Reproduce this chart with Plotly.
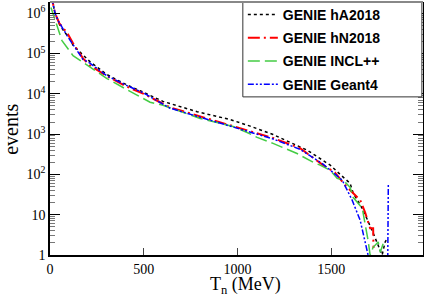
import plotly.graph_objects as go

# ---- data ----
t_hA = [5, 27, 43, 53, 80, 107, 123, 213, 304, 411, 480, 603, 785, 961, 1068, 1190, 1372, 1441, 1495, 1548, 1601, 1617, 1671, 1724, 1751, 1772, 1788, 1799]
n_hA = [3.0e6, 1.0e6, 6.6e5, 5.0e5, 3.3e5, 2.35e5, 1.6e5, 6.3e4, 3.0e4, 1.66e4, 1.2e4, 6500, 3600, 2300, 1580, 980, 400, 250, 170, 100, 60, 35, 13, 3.5, 1.7, 1.0, 2.1, 2.6]

t_hN = [5, 27, 50, 91, 123, 176, 213, 304, 411, 500, 641, 817, 998, 1190, 1334, 1457, 1520, 1575, 1655, 1681, 1708, 1724, 1726]
n_hN = [3.0e6, 1.0e6, 5.6e5, 3.3e5, 1.8e5, 7.6e4, 5.1e4, 2.75e4, 1.5e4, 1.0e4, 4600, 2600, 1480, 800, 450, 170, 112, 54, 23, 11.5, 4.6, 4.6, 1.5]

t_incl = [5, 32, 64, 123, 213, 304, 420, 534, 603, 710, 801, 907, 977, 1052, 1105, 1190, 1318, 1404, 1441, 1495, 1532, 1564, 1601, 1617, 1666, 1697, 1708, 1724, 1751, 1762, 1778, 1788]
n_incl = [1.4e6, 5.9e5, 2.1e5, 8.9e4, 4.6e4, 2.4e4, 1.2e4, 6200, 5200, 3500, 2450, 1860, 1550, 1100, 830, 590, 330, 200, 170, 126, 80, 72, 48, 27, 14.5, 2.3, 1.0, 1.55, 2.1, 1.17, 1.95, 2.3]

t_g4 = [5, 27, 43, 60, 91, 123, 176, 213, 304, 411, 500, 641, 817, 998, 1190, 1334, 1457, 1559, 1612, 1655, 1681, 1697, 1750, 1802, 1805]
n_g4 = [3.0e6, 1.0e6, 6.6e5, 4.8e5, 2.8e5, 1.66e5, 7.2e4, 5.8e4, 2.8e4, 1.6e4, 1.05e4, 4400, 2500, 1400, 760, 420, 180, 72, 23, 7.2, 2.3, 1.0, None, 0.8, 60]

names = ["GENIE hA2018", "GENIE hN2018", "GENIE INCL++", "GENIE Geant4"]
y_tickvals = [1, 10, 100, 1000, 1e4, 1e5, 1e6]
y_ticktext = ["1", "10", "10<sup>2</sup>", "10<sup>3</sup>", "10<sup>4</sup>", "10<sup>5</sup>", "10<sup>6</sup>"]
x_tickvals = [0, 500, 1000, 1500]
x_title = "T<sub>n</sub> (MeV)"
y_title = "events"

fig = go.Figure()
series = [
    (t_hA, n_hA, names[0], "black", "dot", 1.5),
    (t_hN, n_hN, names[1], "red", "12px,4px,2px,4px", 2),
    (t_incl, n_incl, names[2], "#44cc44", "12px,5px", 1.5),
    (t_g4, n_g4, names[3], "blue", "6px,2px,2px,2px,2px,2px", 1.5),
]
for i, (x, y, nm, col, dash, w) in enumerate(series):
    fig.add_trace(go.Scatter(x=x, y=y, name=nm, mode="lines", legendgroup=str(i),
                             line=dict(color=col, dash=dash, width=w), connectgaps=False))

serif = "Liberation Serif"
fig.update_layout(
    width=424, height=296,
    margin=dict(l=50, r=1, t=2, b=41, autoexpand=False),
    paper_bgcolor="white", plot_bgcolor="white",
    showlegend=True,
    legend=dict(x=0.517, y=1.012, xanchor="left", yanchor="top",
                bgcolor="rgba(0,0,0,0)", borderwidth=0,
                font=dict(family="Liberation Sans", size=14, color="black", weight="bold"),
                traceorder="grouped", tracegroupgap=2),
    xaxis=dict(range=[0, 1990], tickvals=x_tickvals, ticks="inside", ticklen=7, automargin=False,
               showgrid=False, zeroline=False, showline=True, linecolor="black", linewidth=1.5,
               mirror=False, tickfont=dict(family=serif, size=14, color="black")),
    yaxis=dict(type="log", range=[0, 6.28], tickvals=y_tickvals, ticktext=y_ticktext, automargin=False,
               ticks="inside", ticklen=10, tickcolor="black",
               minor=dict(ticks="inside", ticklen=5, tickcolor="#777777", dtick="D1"),
               showgrid=False, zeroline=False, showline=True, linecolor="black", linewidth=1.5,
               mirror="ticks", tickfont=dict(family=serif, size=14, color="black")),
    shapes=[
        dict(type="rect", xref="paper", yref="paper", x0=0.517, x1=0.997, y0=0.625, y1=1.0,
             fillcolor="white", line=dict(color="#333333", width=1), layer="above"),
        dict(type="line", xref="paper", yref="paper", x0=0, x1=1, y0=1, y1=1,
             line=dict(color="#888888", width=2), layer="above"),
    ],
    annotations=[
        dict(text=x_title, xref="paper", yref="paper", x=0.525, y=-0.122, showarrow=False,
             xanchor="center", yanchor="middle", font=dict(family=serif, size=18, color="black")),
        dict(text=y_title, xref="paper", yref="paper", x=-0.105, y=0.498, showarrow=False, textangle=-90,
             xanchor="center", yanchor="middle", font=dict(family=serif, size=20, color="black")),
    ],
)

fig.write_html("out.html", config={"displayModeBar": False},
               post_script="document.body.style.margin='0';document.body.style.overflow='hidden';")
